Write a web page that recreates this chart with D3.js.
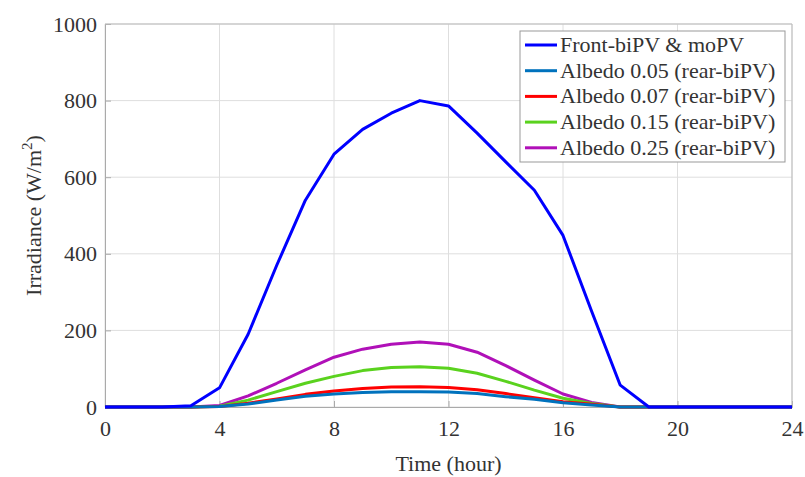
<!DOCTYPE html>
<html>
<head>
<meta charset="utf-8">
<script src="https://cdn.jsdelivr.net/npm/d3@7"></script>
<style>
  body { margin: 0; background: #fff; }
  svg text { font-family: "Liberation Serif", "Times New Roman", serif; fill: #333; }
</style>
</head>
<body>
<div id="chart"></div>
<script>
var svgWidth = 805;
var svgHeight = 477;
var margin = {top: 24, right: 13, bottom: 70, left: 105};
var width = svgWidth - margin.left - margin.right;
var height = svgHeight - margin.top - margin.bottom;

// hourly irradiance, W/m2
var hours = d3.range(0, 25);
var front   = [0, 0, 0, 3, 50, 190, 370, 540, 660, 725, 767, 800, 786, 715, 640, 566, 448, 250, 57, 0, 0, 0, 0, 0, 0];
var alb005  = [0, 0, 0, 0, 1, 8, 18, 28, 34, 38, 40, 40, 39, 35, 27, 20, 11, 5, 0, 0, 0, 0, 0, 0, 0];
var alb007  = [0, 0, 0, 0, 1, 10, 21, 33, 42, 48, 52, 53, 51, 45, 35, 24, 14, 7, 0, 0, 0, 0, 0, 0, 0];
var alb015  = [0, 0, 0, 0, 2, 18, 40, 62, 80, 95, 103, 105, 101, 88, 67, 44, 23, 9, 0, 0, 0, 0, 0, 0, 0];
var alb025  = [0, 0, 0, 0, 4, 29, 62, 97, 130, 151, 164, 170, 164, 143, 108, 70, 34, 12, 0, 0, 0, 0, 0, 0, 0];

var seriesNames = ["Front-biPV & moPV", "Albedo 0.05 (rear-biPV)", "Albedo 0.07 (rear-biPV)",
                   "Albedo 0.15 (rear-biPV)", "Albedo 0.25 (rear-biPV)"];
var seriesValues = [front, alb005, alb007, alb015, alb025];
var seriesColors = ["#0000ff", "#0072bd", "#ff0000", "#5ad21e", "#b010b8"];

var xTicks = [0, 4, 8, 12, 16, 20, 24];
var yTicks = [0, 200, 400, 600, 800, 1000];

var fontSize = "22px";

var svg = d3.select("#chart")
    .append("svg")
    .attr("width", svgWidth)
    .attr("height", svgHeight)
    .append("g")
    .attr("transform", "translate(" + margin.left + "," + margin.top + ")");

var x = d3.scaleLinear().domain([0, 24]).range([0, width]);
var y = d3.scaleLinear().domain([0, 1000]).range([height, 0]);

// grid
svg.append("g")
    .selectAll("line")
    .data(xTicks)
    .enter().append("line")
    .attr("x1", function(d) { return x(d); })
    .attr("x2", function(d) { return x(d); })
    .attr("y1", 0)
    .attr("y2", height)
    .attr("stroke", "#dedede")
    .attr("stroke-width", 1);

svg.append("g")
    .selectAll("line")
    .data(yTicks)
    .enter().append("line")
    .attr("x1", 0)
    .attr("x2", width)
    .attr("y1", function(d) { return y(d); })
    .attr("y2", function(d) { return y(d); })
    .attr("stroke", "#dedede")
    .attr("stroke-width", 1);

// axes
var xAxis = svg.append("g")
    .attr("transform", "translate(0," + height + ")")
    .call(d3.axisBottom(x).tickValues(xTicks).tickFormat(d3.format("d")).tickSize(-6).tickPadding(13));
var yAxis = svg.append("g")
    .call(d3.axisLeft(y).tickValues(yTicks).tickFormat(d3.format("d")).tickSize(-6).tickPadding(8));

[xAxis, yAxis].forEach(function(a) {
    a.select(".domain").attr("stroke", "#aaa");
    a.selectAll(".tick line").attr("stroke", "#aaa");
    a.selectAll(".tick text").style("font-size", fontSize).attr("fill", "#333");
});

// box
svg.append("line").attr("x1", 0).attr("x2", width).attr("y1", 0).attr("y2", 0).attr("stroke", "#bbb");
svg.append("line").attr("x1", width).attr("x2", width).attr("y1", 0).attr("y2", height).attr("stroke", "#bbb");

// axis titles
svg.append("text")
    .attr("x", width / 2)
    .attr("y", height + 64)
    .attr("text-anchor", "middle")
    .style("font-size", fontSize)
    .text("Time (hour)");

var yt = svg.append("text")
    .attr("transform", "translate(-64," + (height / 2) + ") rotate(-90)")
    .attr("text-anchor", "middle")
    .style("font-size", fontSize);
yt.append("tspan").text("Irradiance (W/m");
yt.append("tspan").attr("dy", -9).style("font-size", "15px").text("2");
yt.append("tspan").attr("dy", 9).text(")");

// lines, drawn back to front so the front series sits on top
var line = d3.line()
    .x(function(d, i) { return x(hours[i]); })
    .y(function(d) { return y(d); });

for (var k = seriesValues.length - 1; k >= 0; k--) {
    svg.append("path")
        .datum(seriesValues[k])
        .attr("fill", "none")
        .attr("stroke", seriesColors[k])
        .attr("stroke-width", 3)
        .attr("stroke-linejoin", "round")
        .attr("d", line);
}

// legend
var lg = svg.append("g").attr("transform", "translate(" + (520 - margin.left) + "," + (31 - margin.top) + ")");
lg.append("rect")
    .attr("width", 265)
    .attr("height", 131)
    .attr("fill", "#fff")
    .attr("stroke", "#999")
    .attr("stroke-width", 1);

seriesNames.forEach(function(name, i) {
    var cy = 14 + i * 25.7;
    lg.append("line")
        .attr("x1", 5).attr("x2", 37)
        .attr("y1", cy).attr("y2", cy)
        .attr("stroke", seriesColors[i])
        .attr("stroke-width", 3);
    lg.append("text")
        .attr("x", 40)
        .attr("y", cy + 7)
        .style("font-size", fontSize)
        .text(name);
});
</script>
</body>
</html>
